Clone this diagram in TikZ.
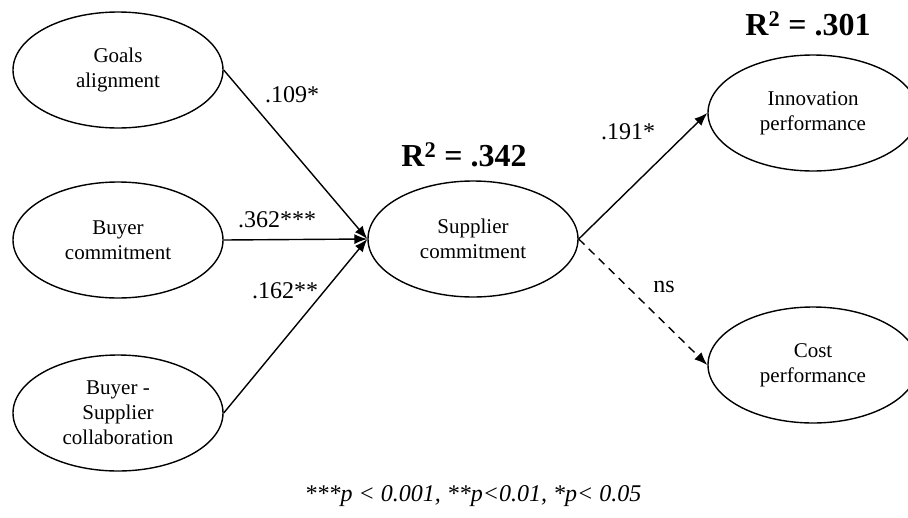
\documentclass[tikz,border=0pt]{standalone}
\usepackage{fontspec}
\setmainfont{Liberation Serif}
\usetikzlibrary{shapes.geometric,arrows.meta}
\tikzset{
  construct/.style={draw, ellipse, line width=1.4pt, minimum width=210pt, minimum height=116pt, inner sep=0pt, align=center, font=\fontsize{21}{25}\selectfont},
  path/.style={line width=1.4pt, -{Latex[length=13pt,width=10pt]}},
  coef/.style={font=\fontsize{24}{28}\selectfont, inner sep=0pt},
  rsq/.style={font=\fontsize{32}{36}\selectfont\bfseries, inner sep=0pt}
}
\begin{document}
\begin{tikzpicture}[x=1pt,y=-1pt]
\useasboundingbox (0,0) rectangle (908,517);
\node[construct] (goals) at (118,70) {Goals\\alignment};
\node[construct] (buyer) at (118,240) {Buyer\\commitment};
\node[construct] (collab) at (118,413) {Buyer -\\Supplier\\collaboration};
\node[construct] (supp) at (473,239) {Supplier\\commitment};
\node[construct] (innov) at (813,113) {Innovation\\performance};
\node[construct] (cost) at (813,365) {Cost\\performance};
\draw[path] (goals.east) -- (supp.west);
\draw[path] (buyer.east) -- (supp.west);
\draw[path] (collab.east) -- (supp.west);
\draw[path] (supp.east) -- (innov.west);
\draw[path, dash pattern=on 8pt off 6pt] (supp.east) -- (cost.west);
\node[coef] (c1) at (292,95) {.109*};
\node[coef] (c2) at (277,220) {.362***};
\node[coef] (c3) at (285,291) {.162**};
\node[coef] (c4) at (628,132) {.191*};
\node[coef] (c5) at (664,287) {ns};
\node[rsq] (r1) at (464,155) {R\textsuperscript{2} = .342};
\node[rsq] (r2) at (808,24) {R\textsuperscript{2} = .301};
\node[coef, font=\fontsize{24}{28}\selectfont\itshape] (note) at (473,496) {***p < 0.001, **p<0.01, *p< 0.05};
\end{tikzpicture}
\end{document}
